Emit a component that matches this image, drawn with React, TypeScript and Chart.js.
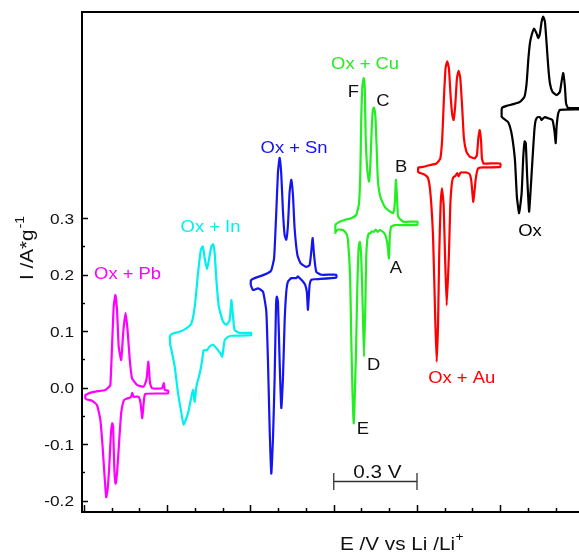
import React, { useEffect, useRef } from "react";
import { Chart, registerables } from "chart.js";

Chart.register(...registerables);

// ---- Data: cyclic voltammograms (E in V, offset along the axis; I in A/g) ----
const pbCurve: number[][] = [
  [0.005, -0.013], [0.017, -0.010], [0.041, -0.007], [0.077, -0.004], [0.089, 0.001], [0.095, 0.004],
  [0.101, 0.073], [0.107, 0.143], [0.113, 0.164], [0.119, 0.138], [0.125, 0.073], [0.134, 0.049],
  [0.142, 0.102], [0.150, 0.132], [0.157, 0.102], [0.165, 0.049], [0.173, 0.017], [0.191, 0.005],
  [0.215, 0.002], [0.225, 0.014], [0.232, 0.046], [0.238, 0.008], [0.245, -0.001], [0.281, -0.001],
  [0.288, 0.008], [0.291, -0.004], [0.303, -0.005],
  [0.303, -0.010], [0.221, -0.011], [0.216, -0.022], [0.210, -0.054], [0.204, -0.028], [0.197, -0.016],
  [0.179, -0.016], [0.174, -0.009], [0.169, -0.017], [0.155, -0.019], [0.144, -0.022], [0.134, -0.045],
  [0.127, -0.093], [0.119, -0.152], [0.114, -0.170], [0.109, -0.140], [0.105, -0.069], [0.102, -0.063],
  [0.097, -0.081], [0.091, -0.140], [0.085, -0.181], [0.080, -0.194], [0.075, -0.163], [0.067, -0.104],
  [0.059, -0.057], [0.047, -0.031], [0.029, -0.023], [0.011, -0.021], [0.005, -0.019], [0.005, -0.013],
];

const inCurve: number[][] = [
  [0.309, 0.090], [0.311, 0.093], [0.321, 0.096], [0.345, 0.099], [0.369, 0.105], [0.387, 0.114],
  [0.399, 0.143], [0.411, 0.203], [0.421, 0.244], [0.428, 0.250], [0.436, 0.226], [0.443, 0.210],
  [0.450, 0.226], [0.459, 0.250], [0.465, 0.254], [0.471, 0.238], [0.477, 0.191], [0.486, 0.143],
  [0.501, 0.117], [0.513, 0.111], [0.525, 0.120], [0.531, 0.155], [0.537, 0.126], [0.543, 0.102],
  [0.561, 0.097], [0.602, 0.097],
  [0.602, 0.093], [0.531, 0.092], [0.519, 0.090], [0.507, 0.084], [0.498, 0.055], [0.491, 0.061],
  [0.477, 0.070], [0.465, 0.076], [0.453, 0.073], [0.444, 0.067], [0.431, 0.066], [0.426, 0.049],
  [0.417, 0.025], [0.405, 0.002], [0.399, -0.025], [0.393, -0.004], [0.387, -0.016], [0.375, -0.045],
  [0.359, -0.066], [0.351, -0.045], [0.339, -0.010], [0.327, 0.037], [0.315, 0.067], [0.311, 0.076],
  [0.309, 0.090],
];

const snCurve: number[][] = [
  [0.601, 0.182], [0.601, 0.189], [0.603, 0.191], [0.615, 0.194], [0.639, 0.198], [0.663, 0.203],
  [0.675, 0.208], [0.685, 0.229], [0.693, 0.312], [0.699, 0.382], [0.705, 0.407], [0.711, 0.377],
  [0.717, 0.312], [0.723, 0.270], [0.729, 0.262], [0.735, 0.288], [0.741, 0.347], [0.747, 0.368],
  [0.753, 0.341], [0.759, 0.282], [0.769, 0.235], [0.781, 0.220], [0.801, 0.214], [0.813, 0.217],
  [0.819, 0.241], [0.824, 0.265], [0.829, 0.235], [0.837, 0.205], [0.855, 0.200], [0.909, 0.200],
  [0.909, 0.195], [0.831, 0.192], [0.819, 0.191], [0.813, 0.182], [0.807, 0.138], [0.803, 0.170],
  [0.797, 0.182], [0.789, 0.188], [0.777, 0.194], [0.771, 0.197], [0.765, 0.194], [0.747, 0.194],
  [0.735, 0.188], [0.729, 0.170], [0.723, 0.117], [0.717, 0.017], [0.711, -0.036], [0.705, 0.046],
  [0.699, 0.152], [0.695, 0.161], [0.692, 0.146], [0.687, 0.017], [0.681, -0.090], [0.675, -0.152],
  [0.669, -0.072], [0.663, 0.046], [0.657, 0.135], [0.645, 0.170], [0.627, 0.176], [0.609, 0.173],
  [0.601, 0.182],
];

const cuCurve: number[][] = [
  [0.906, 0.274], [0.906, 0.288], [0.909, 0.290], [0.921, 0.294], [0.939, 0.297], [0.963, 0.300],
  [0.981, 0.306], [0.991, 0.326], [0.996, 0.385], [0.999, 0.474], [1.003, 0.533], [1.008, 0.548],
  [1.012, 0.527], [1.015, 0.444], [1.021, 0.385], [1.027, 0.365], [1.032, 0.397], [1.037, 0.462],
  [1.041, 0.492], [1.045, 0.496], [1.050, 0.480], [1.055, 0.421], [1.059, 0.368], [1.068, 0.338],
  [1.084, 0.320], [1.102, 0.312], [1.114, 0.309], [1.120, 0.326], [1.124, 0.368], [1.128, 0.338],
  [1.132, 0.303], [1.150, 0.294], [1.201, 0.294],
  [1.201, 0.288], [1.120, 0.288], [1.107, 0.285], [1.102, 0.267], [1.099, 0.229], [1.093, 0.256],
  [1.086, 0.270], [1.077, 0.276], [1.066, 0.279], [1.059, 0.276], [1.051, 0.280], [1.045, 0.276],
  [1.038, 0.277], [1.031, 0.273], [1.026, 0.273], [1.021, 0.262], [1.017, 0.232], [1.014, 0.149],
  [1.009, 0.055], [1.004, 0.149], [0.999, 0.232], [0.994, 0.258], [0.990, 0.250], [0.985, 0.179],
  [0.980, 0.061], [0.975, -0.028], [0.972, -0.063], [0.967, 0.002], [0.963, 0.090], [0.959, 0.197],
  [0.951, 0.262], [0.945, 0.273], [0.933, 0.279], [0.915, 0.280], [0.907, 0.276], [0.906, 0.274],
];

const auCurve: number[][] = [
  [1.204, 0.382], [1.204, 0.389], [1.207, 0.390], [1.222, 0.391], [1.246, 0.394], [1.270, 0.397],
  [1.284, 0.406], [1.291, 0.442], [1.297, 0.512], [1.303, 0.566], [1.309, 0.578], [1.315, 0.566],
  [1.321, 0.518], [1.327, 0.483], [1.332, 0.474], [1.338, 0.501], [1.344, 0.548], [1.350, 0.561],
  [1.356, 0.548], [1.363, 0.495], [1.369, 0.442], [1.378, 0.418], [1.390, 0.409], [1.408, 0.406],
  [1.416, 0.412], [1.421, 0.442], [1.426, 0.456], [1.431, 0.436], [1.434, 0.406], [1.440, 0.397],
  [1.462, 0.397], [1.500, 0.397],
  [1.500, 0.391], [1.438, 0.390], [1.420, 0.388], [1.412, 0.371], [1.403, 0.329], [1.396, 0.365],
  [1.390, 0.378], [1.378, 0.381], [1.366, 0.381], [1.357, 0.381], [1.350, 0.374], [1.345, 0.380],
  [1.338, 0.375], [1.330, 0.372], [1.325, 0.359], [1.320, 0.323], [1.315, 0.235], [1.307, 0.146],
  [1.301, 0.235], [1.296, 0.323], [1.290, 0.353], [1.285, 0.323], [1.280, 0.235], [1.276, 0.117],
  [1.271, 0.046], [1.266, 0.117], [1.258, 0.265], [1.249, 0.341], [1.240, 0.371], [1.228, 0.377],
  [1.212, 0.380], [1.204, 0.382],
];

const oxCurve: number[][] = [
  [1.505, 0.480], [1.505, 0.492], [1.507, 0.496], [1.523, 0.499], [1.547, 0.502], [1.571, 0.506],
  [1.587, 0.515], [1.595, 0.539], [1.601, 0.580], [1.607, 0.610], [1.613, 0.624], [1.622, 0.636],
  [1.631, 0.627], [1.637, 0.619], [1.643, 0.627], [1.649, 0.648], [1.655, 0.657], [1.661, 0.648],
  [1.667, 0.610], [1.673, 0.568], [1.679, 0.539], [1.688, 0.524], [1.703, 0.518], [1.715, 0.524],
  [1.721, 0.542], [1.727, 0.557], [1.733, 0.533], [1.737, 0.504], [1.743, 0.496], [1.763, 0.495],
  [1.798, 0.495],
  [1.798, 0.493], [1.715, 0.492], [1.709, 0.486], [1.703, 0.462], [1.700, 0.433], [1.695, 0.456],
  [1.688, 0.474], [1.673, 0.477], [1.661, 0.479], [1.653, 0.476], [1.649, 0.474], [1.643, 0.479],
  [1.635, 0.479], [1.628, 0.474], [1.623, 0.456], [1.616, 0.403], [1.608, 0.338], [1.604, 0.312],
  [1.597, 0.374], [1.592, 0.433], [1.588, 0.436], [1.583, 0.409], [1.577, 0.344], [1.568, 0.309],
  [1.560, 0.338], [1.553, 0.403], [1.543, 0.444], [1.535, 0.462], [1.527, 0.471], [1.511, 0.477],
  [1.505, 0.480],
];

const seriesNames = ["Ox + Pb", "Ox + In", "Ox + Sn", "Ox + Cu", "Ox + Au", "Ox"];
const seriesColors = ["#ff00ff", "#00f0f0", "#1515f0", "#22ee22", "#ff0000", "#000000"];
const seriesCurves = [pbCurve, inCurve, snCurve, cuCurve, auCurve, oxCurve];

// label anchor points (E, I) for the series names and peak letters
const seriesLabelAt: number[][] = [
  [0.157, 0.201], [0.456, 0.284], [0.757, 0.424], [1.013, 0.572], [1.361, 0.016], [1.607, 0.276],
];
const peakLetters = ["F", "C", "B", "A", "D", "E"];
const peakLetterAt: number[][] = [
  [0.971, 0.522], [1.077, 0.506], [1.143, 0.390], [1.124, 0.211], [1.044, 0.040], [1.005, -0.075],
];

const yTickValues = [-0.2, -0.1, 0.0, 0.1, 0.2, 0.3];
const yTickLabels = ["-0.2", "-0.1", "0.0", "0.1", "0.2", "0.3"];
const yMinorValues = [-0.15, -0.05, 0.05, 0.15, 0.25];
const xMajorValues = [0, 0.3, 0.6, 0.9, 1.2, 1.5];
const xMinorValues = [0.1, 0.2, 0.4, 0.5, 0.7, 0.8, 1.0, 1.1, 1.3, 1.4, 1.6, 1.7];
const scaleBar = { from: 0.9, to: 1.2, at: -0.166, label: "0.3 V" };

const X_MIN = -0.0072;
const X_MAX = 1.7838;
const Y_MIN = -0.2201;
const Y_MAX = 0.6652;

const FONT = '"Liberation Sans", Arial, Helvetica, sans-serif';
const SX = 1.15;

function drawText(
  ctx: CanvasRenderingContext2D,
  s: string,
  x: number,
  y: number,
  size: number,
  color: string,
  align: CanvasTextAlign,
  baseline: CanvasTextBaseline
) {
  ctx.save();
  ctx.font = `${size}px ${FONT}`;
  ctx.fillStyle = color;
  ctx.textAlign = align;
  ctx.textBaseline = baseline;
  ctx.translate(x, y);
  ctx.scale(SX, 1);
  ctx.fillText(s, 0, 0);
  ctx.restore();
}

const overlayPlugin = {
  id: "overlay",
  afterDraw(chart: any) {
    const ctx: CanvasRenderingContext2D = chart.ctx;
    const a = chart.chartArea;
    const xs = chart.scales.x;
    const ys = chart.scales.y;
    ctx.save();

    // frame (left, bottom, top)
    ctx.strokeStyle = "#000";
    ctx.lineWidth = 2;
    ctx.beginPath();
    ctx.moveTo(a.right + 2, a.top);
    ctx.lineTo(a.left, a.top);
    ctx.lineTo(a.left, a.bottom);
    ctx.lineTo(a.right + 2, a.bottom);
    ctx.stroke();

    // ticks (inward)
    ctx.lineWidth = 1.5;
    ctx.beginPath();
    xMajorValues.forEach((v) => {
      const px = Math.round(xs.getPixelForValue(v)) + 0.5;
      ctx.moveTo(px, a.bottom);
      ctx.lineTo(px, a.bottom - 7);
    });
    xMinorValues.forEach((v) => {
      const px = Math.round(xs.getPixelForValue(v)) + 0.5;
      ctx.moveTo(px, a.bottom);
      ctx.lineTo(px, a.bottom - 4);
    });
    yTickValues.forEach((v) => {
      const py = Math.round(ys.getPixelForValue(v)) + 0.5;
      ctx.moveTo(a.left, py);
      ctx.lineTo(a.left + 6, py);
    });
    yMinorValues.forEach((v) => {
      const py = Math.round(ys.getPixelForValue(v)) + 0.5;
      ctx.moveTo(a.left, py);
      ctx.lineTo(a.left + 3, py);
    });
    ctx.stroke();

    // y tick labels
    yTickValues.forEach((v, i) => {
      drawText(ctx, yTickLabels[i], a.left - 8, ys.getPixelForValue(v) + 1.5, 15, "#111", "right", "middle");
    });

    // series labels
    seriesNames.forEach((name, i) => {
      const p = seriesLabelAt[i];
      drawText(ctx, name, xs.getPixelForValue(p[0]), ys.getPixelForValue(p[1]), 16, seriesColors[i], "center", "middle");
    });
    peakLetters.forEach((l, i) => {
      const p = peakLetterAt[i];
      drawText(ctx, l, xs.getPixelForValue(p[0]), ys.getPixelForValue(p[1]), 16, "#111", "center", "middle");
    });

    // scale bar
    const bx1 = xs.getPixelForValue(scaleBar.from);
    const bx2 = xs.getPixelForValue(scaleBar.to);
    const by = Math.round(ys.getPixelForValue(scaleBar.at)) + 0.5;
    ctx.strokeStyle = "#333";
    ctx.lineWidth = 1.3;
    ctx.beginPath();
    ctx.moveTo(bx1, by);
    ctx.lineTo(bx2, by);
    ctx.moveTo(bx1, by - 8.5);
    ctx.lineTo(bx1, by + 8.5);
    ctx.moveTo(bx2, by - 8.5);
    ctx.lineTo(bx2, by + 8.5);
    ctx.stroke();
    drawText(ctx, scaleBar.label, (bx1 + bx2) / 2 + 2, by - 4, 18, "#111", "center", "alphabetic");

    // x axis title: E /V vs Li /Li+
    ctx.save();
    ctx.font = `18px ${FONT}`;
    const xt = "E /V vs Li /Li";
    const w = ctx.measureText(xt).width * SX;
    ctx.restore();
    drawText(ctx, xt, 340, 550, 18, "#111", "left", "alphabetic");
    drawText(ctx, "+", 340 + w + 0.5, 541, 12, "#111", "left", "alphabetic");

    // y axis title: I /A*g^-1 (rotated)
    ctx.save();
    ctx.font = `18px ${FONT}`;
    const yt = "I /A*g";
    const yw = ctx.measureText(yt).width * SX;
    ctx.restore();
    ctx.save();
    ctx.translate(33, 280);
    ctx.rotate(-Math.PI / 2);
    drawText(ctx, yt, 0, 0, 18, "#111", "left", "alphabetic");
    drawText(ctx, "-1", yw + 1, -9, 12, "#111", "left", "alphabetic");
    ctx.restore();

    ctx.restore();
  },
};

export default function App() {
  const ref = useRef<HTMLCanvasElement | null>(null);

  useEffect(() => {
    if (!ref.current) return;
    const chart = new Chart(ref.current, {
      type: "scatter",
      data: {
        datasets: seriesCurves.map((c, i) => ({
          label: seriesNames[i],
          data: c.map(([e, cur]) => ({ x: e, y: cur })),
          showLine: true,
          borderColor: seriesColors[i],
          backgroundColor: seriesColors[i],
          borderWidth: 2.2,
          borderJoinStyle: "round",
          borderCapStyle: "round",
          pointRadius: 0,
          tension: 0.15,
          fill: false,
        })),
      },
      options: {
        responsive: false,
        animation: false,
        layout: { padding: { left: 82, top: 12, right: 0, bottom: 41 } },
        scales: {
          x: { type: "linear", display: false, min: X_MIN, max: X_MAX },
          y: { type: "linear", display: false, min: Y_MIN, max: Y_MAX },
        },
        plugins: { legend: { display: false }, tooltip: { enabled: false } },
      },
      plugins: [overlayPlugin],
    } as any);
    return () => chart.destroy();
  }, []);

  return (
    <div style={{ position: "fixed", left: 0, top: 0, width: 579, height: 553, background: "#fff", overflow: "hidden" }}>
      <canvas ref={ref} width={579} height={553} style={{ display: "block" }} />
    </div>
  );
}
